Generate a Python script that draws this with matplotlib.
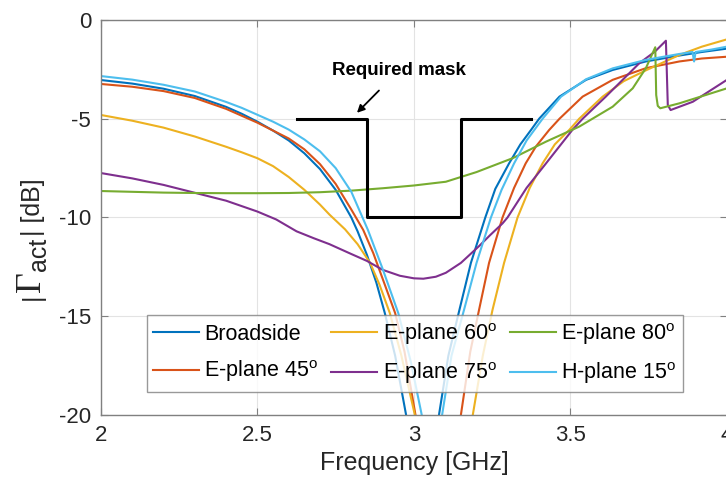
import numpy as np
import matplotlib.pyplot as plt
import matplotlib.transforms as mtransforms

plt.rcParams['font.family'] = ['Liberation Sans', 'DejaVu Sans']
plt.rcParams['mathtext.fontset'] = 'custom'
plt.rcParams['mathtext.rm'] = 'Liberation Sans'
plt.rcParams['axes.unicode_minus'] = False

# Broadside
f_bs = [2.0, 2.1, 2.2, 2.3, 2.4, 2.45, 2.5, 2.55, 2.6, 2.65, 2.7, 2.75, 2.8, 2.82, 2.85, 2.88, 2.907,
        2.94, 2.975, 3.0, 3.02, 3.035, 3.05, 3.065, 3.08, 3.11, 3.145, 3.182, 3.228, 3.26, 3.304,
        3.34, 3.374, 3.4, 3.465, 3.55, 3.635, 3.741, 3.848, 3.92, 4.0]
s_bs = [-3.04, -3.22, -3.48, -3.85, -4.4, -4.75, -5.15, -5.6, -6.1, -6.75, -7.55, -8.6, -10.0, -10.7, -11.9, -13.3, -14.84,
        -17.0, -20.0, -23.0, -27.0, -30.0, -27.0, -23.0, -20.0, -17.0, -14.7, -12.3, -10.0, -8.55, -7.26,
        -6.3, -5.57, -5.0, -3.88, -3.03, -2.53, -2.1, -1.8, -1.62, -1.45]

# E-plane 45
f_e45 = [2.0, 2.1, 2.2, 2.3, 2.4, 2.45, 2.5, 2.55, 2.6, 2.65, 2.7, 2.75, 2.8, 2.838, 2.87, 2.9, 2.94,
         2.97, 3.005, 3.04, 3.075, 3.11, 3.15, 3.18, 3.208, 3.24, 3.283, 3.32, 3.357, 3.39, 3.432,
         3.465, 3.539, 3.635, 3.741, 3.848, 3.92, 4.0]
s_e45 = [-3.24, -3.38, -3.6, -3.95, -4.5, -4.85, -5.2, -5.6, -6.0, -6.55, -7.3, -8.3, -9.6, -10.63, -11.8, -13.1, -14.84,
         -16.8, -20.0, -24.0, -28.0, -24.0, -20.0, -16.8, -14.68, -12.3, -10.0, -8.5, -7.26, -6.4, -5.57,
         -5.0, -3.88, -3.03, -2.44, -2.1, -1.95, -1.86]

# E-plane 60
f_e60 = [2.0, 2.1, 2.2, 2.3, 2.4, 2.45, 2.5, 2.55, 2.6, 2.65, 2.7, 2.73, 2.78, 2.82, 2.86, 2.89, 2.923,
         2.96, 3.003, 3.05, 3.1, 3.15, 3.188, 3.22, 3.251, 3.288, 3.331, 3.37, 3.411, 3.45, 3.496,
         3.528, 3.603, 3.67, 3.741, 3.848, 3.92, 4.0]
s_e60 = [-4.81, -5.1, -5.45, -5.9, -6.42, -6.7, -7.0, -7.4, -7.95, -8.6, -9.35, -9.85, -10.6, -11.35, -12.3, -13.4, -14.84,
         -17.0, -20.0, -24.0, -28.0, -24.0, -20.0, -17.0, -14.68, -12.3, -10.0, -8.5, -7.26, -6.3, -5.57,
         -5.0, -3.88, -3.1, -2.55, -1.77, -1.35, -0.98]

# E-plane 75
f_e75 = [2.0, 2.1, 2.2, 2.3, 2.4, 2.5, 2.56, 2.625, 2.68, 2.73, 2.8, 2.85, 2.9, 2.955, 3.0, 3.03, 3.07,
         3.102, 3.15, 3.208, 3.243, 3.283, 3.299, 3.36, 3.422, 3.506, 3.539, 3.613, 3.72, 3.77, 3.805,
         3.811, 3.82, 3.891, 4.0]
s_e75 = [-7.75, -8.02, -8.35, -8.75, -9.15, -9.7, -10.1, -10.7, -11.05, -11.35, -11.85, -12.2, -12.65, -12.95, -13.08, -13.1, -13.0,
         -12.8, -12.3, -11.45, -10.9, -10.3, -10.0, -8.5, -7.26, -5.57, -5.0, -3.88, -2.19, -1.6, -1.05,
         -4.3, -4.56, -4.14, -3.03]

# E-plane 80
f_e80 = [2.0, 2.1, 2.2, 2.3, 2.4, 2.5, 2.6, 2.7, 2.8, 2.9, 3.0, 3.102, 3.2, 3.315, 3.422, 3.528,
         3.635, 3.699, 3.741, 3.771, 3.774, 3.779, 3.787, 3.848, 4.0]
s_e80 = [-8.66, -8.7, -8.74, -8.76, -8.77, -8.77, -8.76, -8.72, -8.64, -8.52, -8.38, -8.19, -7.7, -7.0, -6.16, -5.4,
         -4.39, -3.46, -2.44, -1.38, -3.8, -4.35, -4.47, -4.22, -3.46]

# H-plane 15
f_h15 = [2.0, 2.1, 2.2, 2.3, 2.4, 2.45, 2.5, 2.55, 2.6, 2.65, 2.7, 2.75, 2.8, 2.833, 2.853, 2.9, 2.95,
         2.99, 3.025, 3.045, 3.06, 3.075, 3.09, 3.12, 3.16, 3.2, 3.246, 3.28, 3.32, 3.36, 3.411,
         3.47, 3.55, 3.635, 3.741, 3.848, 3.89, 3.895, 3.9, 3.95, 4.0]
s_h15 = [-2.84, -3.02, -3.28, -3.62, -4.15, -4.45, -4.8, -5.15, -5.55, -6.05, -6.65, -7.5, -8.7, -9.9, -10.63, -12.6, -14.84,
         -17.3, -20.0, -22.5, -24.0, -22.5, -20.0, -17.0, -14.68, -12.3, -10.0, -8.6, -7.26, -6.1, -5.0,
         -3.88, -3.0, -2.45, -2.02, -1.72, -1.62, -2.1, -1.62, -1.5, -1.35]

mask_f = [2.625, 2.85, 2.85, 3.15, 3.15, 3.375]
mask_db = [-5, -5, -10, -10, -5, -5]

series = [
    ('Broadside', f_bs, s_bs, '#0072BD'),
    ('E-plane 45$^{\\mathrm{o}}$', f_e45, s_e45, '#D95319'),
    ('E-plane 60$^{\\mathrm{o}}$', f_e60, s_e60, '#EDB120'),
    ('E-plane 75$^{\\mathrm{o}}$', f_e75, s_e75, '#7E2F8E'),
    ('E-plane 80$^{\\mathrm{o}}$', f_e80, s_e80, '#77AC30'),
    ('H-plane 15$^{\\mathrm{o}}$', f_h15, s_h15, '#4DBEEE'),
]

fig = plt.figure(figsize=(7.26, 4.91), dpi=100)
ax = fig.add_axes([0.139, 0.1548, 0.8623, 0.8045])

for name, f, s, c in series:
    ax.plot(f, s, color=c, lw=1.5, label=name)

ax.plot(mask_f, mask_db, color='k', lw=2.2)
ax.annotate('Required mask', xy=(2.818, -4.7), xytext=(2.952, -2.55),
            ha='center', va='center', fontsize=13.5, fontweight='bold',
            arrowprops=dict(arrowstyle='-|>', color='k', lw=1.3, mutation_scale=11,
                            shrinkA=9, shrinkB=0))

ax.set_xlim(2, 4)
ax.set_ylim(-20, 0)
ax.set_xticks([2, 2.5, 3, 3.5, 4])
ax.set_xticklabels(['2', '2.5', '3', '3.5', '4'])
ax.set_yticks([-20, -15, -10, -5, 0])
ax.grid(True, color='#e3e3e3', lw=0.8)
ax.set_axisbelow(True)
for sp in ax.spines.values():
    sp.set_color('#808080')
    sp.set_linewidth(1.0)
ax.tick_params(direction='in', length=5, color='#808080', labelsize=16, labelcolor='#262626',
               top=True, right=True, pad=7)
ax.set_xlabel('Frequency [GHz]', fontsize=18, color='#262626', labelpad=4)

leg = ax.legend(ncol=3, loc='lower left', bbox_to_anchor=(0.073, 0.058),
                fontsize=15.5, frameon=True, fancybox=False, edgecolor='#808080',
                handlelength=2.15, handletextpad=0.25, borderpad=0.28, labelspacing=0.62,
                columnspacing=0.6, borderaxespad=0)
leg.get_frame().set_linewidth(1.0)

# y label |Gamma_act| [dB], pieces stacked bottom to top in pixels
fig.canvas.draw()
renderer = fig.canvas.get_renderer()
ident = mtransforms.IdentityTransform()
ylab_parts = [('|', 18, 'Liberation Sans', 0),
              ('\u0393', 26, 'Liberation Serif', 0),
              ('act', 18, 'Liberation Sans', 6),
              ('| [dB]', 18, 'Liberation Sans', 0)]
ypos = 491 - 300
for txt, size, fam, dx in ylab_parts:
    t = fig.text(40 + dx, ypos, txt, rotation=90, rotation_mode='anchor', ha='left', va='baseline',
                 fontsize=size, family=fam, color='#262626', transform=ident)
    ypos += t.get_window_extent(renderer).height + 1

fig.savefig('out.png', dpi=100)
